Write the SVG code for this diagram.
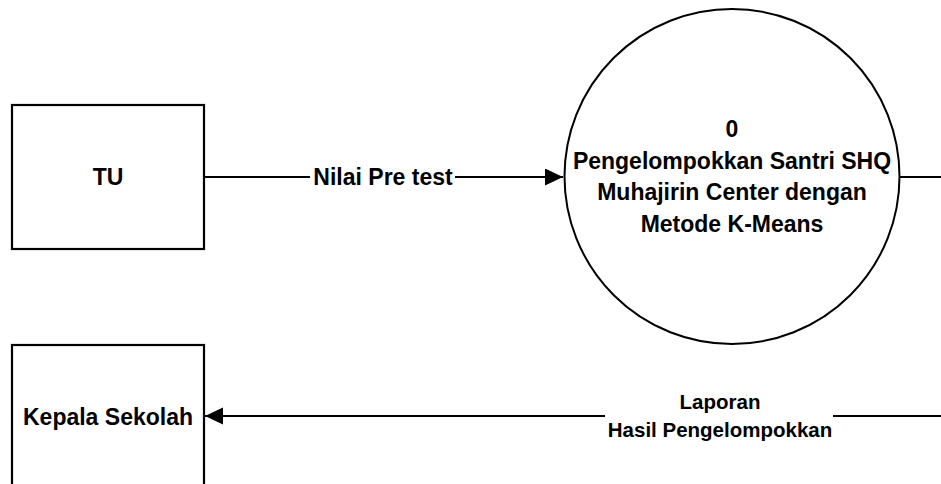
<svg xmlns="http://www.w3.org/2000/svg" width="941" height="484" viewBox="0 0 941 484">
<defs>
<style>
.box{fill:#fff;stroke:#000;stroke-width:2.2}
.proc{fill:#fff;stroke:#000;stroke-width:2}
.ln{fill:none;stroke:#000;stroke-width:2}
.t{font-family:"Liberation Sans",Arial,sans-serif;font-weight:bold;fill:#000;text-anchor:middle}
.big{font-size:23px}
.sm{font-size:20.5px}
</style>
<marker id="ah" markerUnits="userSpaceOnUse" markerWidth="20" markerHeight="18" refX="18" refY="8.5" orient="auto">
<path d="M0,0 L18,8.5 L0,17 Z" fill="#000"/>
</marker>
</defs>
<rect width="941" height="484" fill="#fff"/>
<g id="connectors">
<line class="ln" x1="204" y1="177" x2="310" y2="177"/>
<line class="ln" x1="455" y1="177" x2="563" y2="177" marker-end="url(#ah)"/>
<line class="ln" x1="899" y1="177" x2="941" y2="177"/>
<line class="ln" x1="941" y1="416" x2="833" y2="416"/>
<line class="ln" x1="605" y1="416" x2="205" y2="416" marker-end="url(#ah)"/>
<text class="t big" x="383" y="185">Nilai Pre test</text>
<text class="t sm" x="720" y="409">Laporan</text>
<text class="t sm" x="720" y="437">Hasil Pengelompokkan</text>
</g>
<g id="node-tu">
<rect class="box" x="12" y="105" width="192" height="144"/>
<text class="t big" x="108" y="185">TU</text>
</g>
<g id="node-kepala">
<rect class="box" x="12" y="345" width="192" height="160"/>
<text class="t big" x="108" y="425">Kepala Sekolah</text>
</g>
<g id="node-process">
<circle class="proc" cx="732" cy="176.5" r="167.5"/>
<text class="t big" x="732" y="137">0</text>
<text class="t big" x="732" y="169">Pengelompokkan Santri SHQ</text>
<text class="t big" x="732" y="200">Muhajirin Center dengan</text>
<text class="t big" x="732" y="232">Metode K-Means</text>
</g>
</svg>
